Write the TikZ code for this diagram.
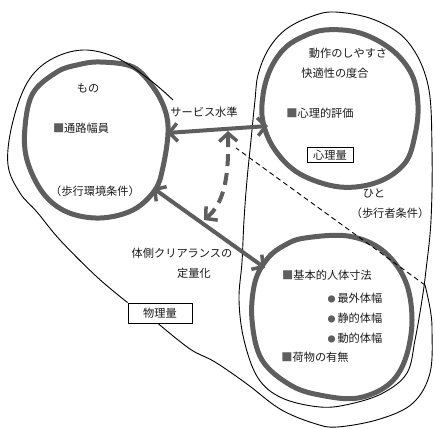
\documentclass[tikz,border=0pt]{standalone}
\usepackage{fontspec}
\setmainfont{Noto Sans CJK JP}
\usetikzlibrary{arrows.meta}
\definecolor{ringgray}{HTML}{5E5E5E}
\definecolor{ink}{HTML}{1A1A1A}
\begin{document}
\begin{tikzpicture}[x=1pt,y=-1pt,
  ringline/.style={draw=ringgray, line width=5pt, line join=round},
  thinline/.style={draw=black, line width=0.9pt, line join=round},
  lbl/.style={font=\fontsize{11.2}{13}\selectfont, text=ink, inner sep=0pt},
  boxlbl/.style={lbl, draw=black, line width=0.9pt, fill=white, minimum height=16pt},
  barb/.tip={Straight Barb[length=8pt,width=18pt,line width=3.5pt]},
  darrow/.style={draw=ringgray, line width=4pt, barb-barb},
  dasharrow/.style={draw=ringgray, line width=4pt, barb-barb, dash pattern=on 12pt off 7pt},
]
\useasboundingbox (0,0) rectangle (435,428);

% thick rings
\draw[ringline] plot[smooth cycle, tension=0.6] coordinates {(100,62) (133,67) (153,87) (165,110) (168,133) (163,167) (155,190) (133,210) (100,218) (67,212) (43,193) (27,160) (25,127) (33,93) (57,72) (77,65)};
\draw[ringline] plot[smooth cycle, tension=0.6] coordinates {(325,30) (360,33) (392,50) (412,75) (418,105) (415,135) (405,163) (378,182) (340,187) (300,174) (275,150) (263,122) (263,95) (270,70) (283,50) (300,38)};
\draw[ringline] plot[smooth cycle, tension=0.6] coordinates {(305,238) (348,236) (382,250) (405,280) (412,320) (405,360) (388,385) (358,398) (325,396) (292,386) (262,360) (252,320) (255,282) (268,258) (285,245)};

% region "hito" boundary
\draw[thinline] plot[smooth cycle, tension=0.6] coordinates {(255,100) (258,75) (268,50) (285,30) (310,17) (335,12) (375,20) (408,42) (428,85) (432,150) (431,220) (426,270) (422,300) (415,340) (407,373) (383,393) (350,404) (320,407) (282,398) (258,378) (244,340) (239,300) (242,262) (244,220) (247,180) (251,140)};

% labels and boxes
\node[boxlbl, minimum width=64pt, minimum height=20pt] (pbox) at (160,313) {物理量};
\node[boxlbl, minimum width=46pt, minimum height=15pt] (sbox) at (330,155) {心理量};

% region "mono" boundary (physical)
\coordinate (phystop) at (173,100);
\coordinate (crosspt) at (425,285);
\coordinate (dashend) at (236,148);
\coordinate (pboxout) at ([xshift=-2pt]pbox.south);
\draw[thinline] plot[smooth, tension=0.6] coordinates {(phystop) (150,80) (117,58) (83,50) (50,60) (27,83) (12,125) (8,165) (20,193) (37,212) (60,240) (97,277) (pbox.north west)};
\draw[thinline] plot[smooth, tension=0.6] coordinates {(pboxout) (190,349) (215,362) (247,384) (280,409) (313,423) (337,427) (380,419) (413,403) (430,373) (432,330) (430,308) (crosspt)};
\draw[thinline, dash pattern=on 5pt off 3.5pt] (crosspt) -- (dashend);

% arrows
\coordinate (hA) at (167,133);
\coordinate (hB) at (268,126);
\coordinate (dA) at (153,188);
\coordinate (dB) at (265,268);
\coordinate (vA) at (228,131);
\coordinate (vB) at (204,220);
\draw[darrow] (hA) -- (hB);
\draw[darrow] (dA) -- (dB);
\draw[dasharrow] (vA) .. controls (229,178) and (224,203) .. (vB);

\node[lbl] (mono) at (88,88) {もの};
\node[lbl] (tsuuro) at (81,128) {\textcolor{ringgray}{■}通路幅員};
\node[lbl] (hokoukan) at (95,191) {（歩行環境条件）};
\node[lbl] (service) at (204,112) {サービス水準};
\node[lbl] (dousa) at (348,53) {動作のしやすさ};
\node[lbl] (kaiteki) at (335,73) {快適性の度合};
\node[lbl] (shinri) at (320,113) {\textcolor{ringgray}{■}心理的評価};
\node[lbl] (hito) at (374,193) {ひと};
\node[lbl] (hokousha) at (390,213) {（歩行者条件）};
\node[lbl] (taisoku) at (182,253) {体側クリアランスの};
\node[lbl] (teiryou) at (194,273) {定量化};
\node[lbl] (kihon) at (327,275) {\textcolor{ringgray}{■}基本的人体寸法};
\node[lbl] (saigai) at (355,298) {\textcolor{ringgray}{\fontsize{8}{8}\selectfont ●}\,最外体幅};
\node[lbl] (seiteki) at (355,318) {\textcolor{ringgray}{\fontsize{8}{8}\selectfont ●}\,静的体幅};
\node[lbl] (douteki) at (355,338) {\textcolor{ringgray}{\fontsize{8}{8}\selectfont ●}\,動的体幅};
\node[lbl] (nimotsu) at (315,357) {\textcolor{ringgray}{■}荷物の有無};
\end{tikzpicture}
\end{document}
